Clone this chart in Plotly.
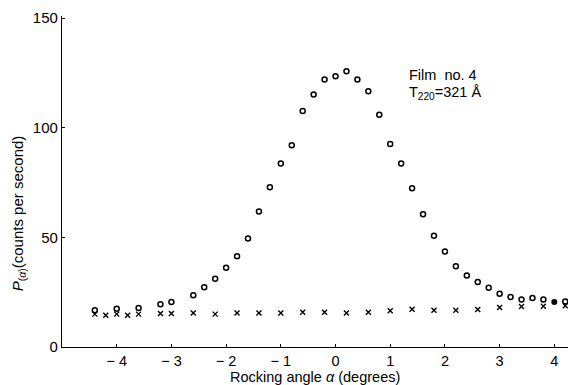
import plotly.graph_objects as go

# Data
circle_angle = [-4.4, -4.0, -3.6, -3.2, -3.0, -2.6, -2.4, -2.2, -2.0, -1.8, -1.6, -1.4, -1.2,
                -1.0, -0.8, -0.6, -0.4, -0.2, 0.0, 0.2, 0.4, 0.6, 0.8, 1.0, 1.2, 1.4, 1.6,
                1.8, 2.0, 2.2, 2.4, 2.6, 2.8, 3.0, 3.2, 3.4, 3.6, 3.8, 4.2]
circle_count = [16.8, 17.5, 17.8, 19.5, 20.5, 23.6, 27.3, 31.1, 36.1, 41.4, 49.5, 61.8, 72.9,
                83.7, 92.0, 107.7, 115.2, 122.0, 123.5, 125.8, 122.0, 116.7, 105.9, 92.6, 83.7,
                72.4, 60.6, 50.7, 43.6, 36.8, 32.6, 29.6, 27.0, 24.3, 22.8, 21.7, 22.3, 21.7, 20.8]

cross_angle = [-4.4, -4.2, -4.0, -3.8, -3.6, -3.2, -3.0, -2.6, -2.2, -1.8, -1.4, -1.0, -0.6,
               -0.2, 0.2, 0.6, 1.0, 1.4, 1.8, 2.2, 2.6, 3.0, 3.4, 3.8, 4.2]
cross_count = [15.0, 14.5, 15.0, 14.5, 15.0, 15.3, 15.3, 15.5, 15.0, 15.5, 15.5, 15.5, 15.9,
               15.9, 15.5, 15.9, 16.5, 17.2, 16.8, 16.8, 17.1, 18.0, 18.5, 18.6, 18.8]

filled_angle = [4.0]
filled_count = [20.5]

x_ticks = [-4, -3, -2, -1, 0, 1, 2, 3, 4]
x_ticktext = ["\u2212 4", "\u2212 3", "\u2212 2", "\u2212 1", "0", "1", "2", "3", "4"]
y_ticks = [0, 50, 100, 150]

FONT = "Liberation Sans"

fig = go.Figure()
fig.add_trace(go.Scatter(x=circle_angle, y=circle_count, mode="markers",
                         marker=dict(symbol="circle-open", size=5, color="black",
                                     line=dict(width=1.5, color="black"))))
fig.add_trace(go.Scatter(x=cross_angle, y=cross_count, mode="markers",
                         marker=dict(symbol="x-thin-open", size=5, color="black",
                                     line=dict(width=1.4, color="black"))))
fig.add_trace(go.Scatter(x=filled_angle, y=filled_count, mode="markers",
                         marker=dict(symbol="circle", size=6, color="black")))

fig.update_layout(
    width=568, height=385,
    margin=dict(l=62, r=0, t=16, b=38, autoexpand=False),
    paper_bgcolor="white", plot_bgcolor="white",
    showlegend=False,
    font=dict(family=FONT, size=14, color="black"),
    xaxis=dict(range=[-5, 4.25], tickvals=x_ticks, ticktext=x_ticktext,
               showline=True, linecolor="black", linewidth=1.2,
               ticks="inside", ticklen=3, tickcolor="black",
               showgrid=False, zeroline=False, automargin=False,
               tickfont=dict(family=FONT, size=14.5)),
    yaxis=dict(range=[0, 151], tickvals=y_ticks,
               showline=True, linecolor="black", linewidth=1.2,
               ticks="inside", ticklen=3, tickcolor="black",
               showgrid=False, zeroline=False, automargin=False,
               tickfont=dict(family=FONT, size=15)),
)

fig.add_annotation(text="Rocking angle <i>\u03b1</i> (degrees)", xref="paper", yref="paper",
                   x=0.5, y=-0.092, xanchor="center", yanchor="middle", showarrow=False,
                   borderpad=0, font=dict(family=FONT, size=14.5))
fig.add_annotation(text="<i>P</i><sub>(<i>\u03b1</i>)</sub>(counts per second)",
                   xref="paper", yref="y", x=-0.087, y=61, textangle=-90,
                   xanchor="center", yanchor="middle", showarrow=False,
                   font=dict(family=FONT, size=15))
fig.add_annotation(text="Film  no. 4", xref="x", yref="y", x=1.32, y=128,
                   xanchor="left", yanchor="top", showarrow=False, borderpad=0,
                   font=dict(family=FONT, size=14.5))
fig.add_annotation(text="T<sub>220</sub>=321 \u00c5", xref="x", yref="y", x=1.32, y=120.6,
                   xanchor="left", yanchor="top", showarrow=False, borderpad=0,
                   font=dict(family=FONT, size=14.5))

fig.write_html("out.html", config={"displayModeBar": False},
               post_script="document.body.style.margin='0';document.body.style.padding='0';")
